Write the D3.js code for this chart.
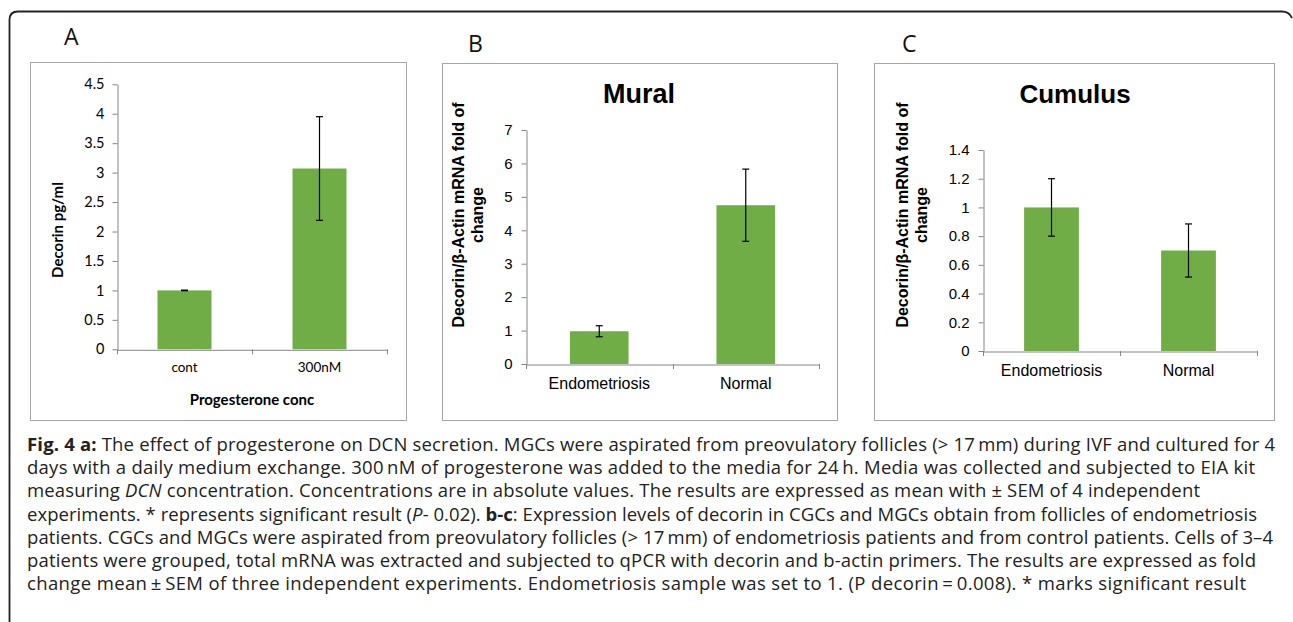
<!DOCTYPE html>
<html><head><meta charset="utf-8">
<script src="https://cdn.jsdelivr.net/npm/d3@7"></script>
<style>body{margin:0;background:#fff}svg{display:block}</style>
</head><body>
<svg id="c" width="1293" height="622"></svg>
<script>
// ---- data ----
const catsA = ["cont", "300nM"];
const valsA = [1.0, 3.07];
const errA = [0.005, 0.88];
const ticksA = [0, 0.5, 1, 1.5, 2, 2.5, 3, 3.5, 4, 4.5];

const catsBC = ["Endometriosis", "Normal"];
const valsB = [0.98, 4.75];
const errB = [0.165, 1.08];
const ticksB = [0, 1, 2, 3, 4, 5, 6, 7];

const valsC = [1.0, 0.7];
const errC = [0.2, 0.185];
const ticksC = [0, 0.2, 0.4, 0.6, 0.8, 1, 1.2, 1.4];

const captionLines = [
  [["b","Fig. 4 a:"],["n"," The effect of progesterone on DCN secretion. MGCs were aspirated from preovulatory follicles (> 17\u2009mm) during IVF and cultured for 4"]],
  [["n","days with a daily medium exchange. 300\u2009nM of progesterone was added to the media for 24\u2009h. Media was collected and subjected to EIA kit"]],
  [["n","measuring "],["i","DCN"],["n"," concentration. Concentrations are in absolute values. The results are expressed as mean with \u00b1 SEM of 4 independent"]],
  [["n","experiments. * represents significant result ("],["i","P"],["n","- 0.02). "],["b","b-c"],["n",": Expression levels of decorin in CGCs and MGCs obtain from follicles of endometriosis"]],
  [["n","patients. CGCs and MGCs were aspirated from preovulatory follicles (> 17\u2009mm) of endometriosis patients and from control patients. Cells of 3\u20134"]],
  [["n","patients were grouped, total mRNA was extracted and subjected to qPCR with decorin and b-actin primers. The results are expressed as fold"]],
  [["n","change mean\u2009\u00b1\u2009SEM of three independent experiments. Endometriosis sample was set to 1. (P decorin\u2009=\u20090.008). * marks significant result"]]
];
const captionEnds = [1275, 1255, 1200, 1257, 1273, 1256, 1246];

const svg = d3.select("#c");
const green = "#70AD47";
const axisCol = "#868686";

svg.append("path")
  .attr("d", "M9.5,640 L9.5,20 Q9.5,11.5 18,11.5 L1282,11.5 Q1289,11.5 1292,18")
  .attr("fill", "none").attr("stroke", "#222").attr("stroke-width", 1.8);

function panel(o) {
  const g = svg.append("g");
  g.append("rect").attr("x", o.frame[0] + 0.5).attr("y", o.frame[1] + 0.5)
    .attr("width", o.frame[2] - o.frame[0]).attr("height", o.frame[3] - o.frame[1])
    .attr("fill", "#fff").attr("stroke", "#a6a6a6").attr("stroke-width", 1);
  g.append("text").attr("x", o.letterPos[0]).attr("y", o.letterPos[1])
    .attr("font-family", "'Open Sans', sans-serif").attr("font-size", 23)
    .attr("fill", "#111").text(o.letter);

  const y = d3.scaleLinear().domain(o.ydom).range([o.y0, o.y1]);
  const x = d3.scaleBand().domain(o.cats).range([o.x0, o.x1])
    .paddingInner(0.6).paddingOuter(0.3);

  const ya = g.append("g").attr("transform", `translate(${o.x0 + 0.5},0)`)
    .call(d3.axisLeft(y).tickValues(o.ticks).tickSize(5).tickSizeOuter(0).tickPadding(o.tickPad)
      .tickFormat(d3.format("")));
  ya.select(".domain").attr("stroke", axisCol);
  ya.selectAll(".tick line").attr("stroke", axisCol);
  ya.selectAll(".tick text").attr("font-family", o.font).attr("font-size", o.fs).attr("fill", "#000");

  const xa = g.append("g").attr("transform", `translate(0,${o.y0 + 0.5})`)
    .call(d3.axisBottom(x).tickSize(0).tickPadding(o.catPad).tickSizeOuter(0));
  xa.select(".domain").attr("stroke", axisCol);
  xa.selectAll(".tick text").attr("font-family", o.font).attr("font-size", o.catFs).attr("fill", "#000");
  const bounds = [o.x0, o.x0 + x.step(), o.x1];
  g.selectAll(null).data(bounds).join("line")
    .attr("x1", d => Math.round(d) + 0.5).attr("x2", d => Math.round(d) + 0.5)
    .attr("y1", o.y0).attr("y2", o.y0 + 5).attr("stroke", axisCol);

  g.selectAll(null).data(o.vals).join("rect")
    .attr("x", (d, i) => x(o.cats[i])).attr("width", x.bandwidth())
    .attr("y", d => y(d)).attr("height", d => y(0) - y(d)).attr("fill", green);

  const eb = g.selectAll(null).data(o.vals).join("g");
  eb.append("line")
    .attr("x1", (d, i) => x(o.cats[i]) + x.bandwidth() / 2).attr("x2", (d, i) => x(o.cats[i]) + x.bandwidth() / 2)
    .attr("y1", (d, i) => y(d + o.err[i])).attr("y2", (d, i) => y(d - o.err[i]))
    .attr("stroke", "#000").attr("stroke-width", 1.2);
  [1, -1].forEach(s => {
    eb.append("line")
      .attr("x1", (d, i) => x(o.cats[i]) + x.bandwidth() / 2 - 3.5).attr("x2", (d, i) => x(o.cats[i]) + x.bandwidth() / 2 + 3.5)
      .attr("y1", (d, i) => y(d + s * o.err[i])).attr("y2", (d, i) => y(d + s * o.err[i]))
      .attr("stroke", "#000").attr("stroke-width", 1.2);
  });

  if (o.title) {
    g.append("text").attr("x", o.titlePos[0]).attr("y", o.titlePos[1]).attr("text-anchor", "middle")
      .attr("font-family", "'Liberation Sans', Arial, sans-serif").attr("font-weight", "bold")
      .attr("font-size", o.titleFs).attr("fill", "#000").text(o.title);
  }
  const yt = g.append("text").attr("transform", `translate(${o.ytPos[0]},${o.ytPos[1]}) rotate(-90)`)
    .attr("text-anchor", "middle").attr("font-family", o.font).attr("font-weight", "bold")
    .attr("font-size", o.ytfs).attr("fill", "#000");
  o.ytitle.forEach((t, i) => yt.append("tspan").attr("x", 0).attr("dy", i === 0 ? 0 : o.ytLine).text(t));
  if (o.xtitle) {
    g.append("text").attr("x", o.xtPos[0]).attr("y", o.xtPos[1]).attr("text-anchor", "middle")
      .attr("font-family", o.font).attr("font-weight", "bold").attr("font-size", o.ytfs).attr("fill", "#000")
      .text(o.xtitle);
  }
}

panel({
  frame: [30, 62, 406, 420], letter: "A", letterPos: [64, 45],
  cats: catsA, vals: valsA, err: errA, ticks: ticksA, ydom: [0, 4.5],
  x0: 117, x1: 387, y0: 349.3, y1: 84.3,
  font: "Lato, 'Open Sans', sans-serif", fs: 14.5, catFs: 13.5, tickPad: 8, catPad: 13,
  ytitle: ["Decorin pg/ml"], ytPos: [63, 230], ytfs: 15, ytLine: 0,
  xtitle: "Progesterone conc", xtPos: [252, 405]
});

panel({
  frame: [442, 63, 837, 420], letter: "B", letterPos: [468, 52],
  cats: catsBC, vals: valsB, err: errB, ticks: ticksB, ydom: [0, 7],
  x0: 526, x1: 819, y0: 364, y1: 130,
  font: "'Liberation Sans', Arial, sans-serif", fs: 15, catFs: 16, tickPad: 9, catPad: 13,
  title: "Mural", titlePos: [639, 103], titleFs: 27,
  ytitle: ["Decorin/\u03b2-Actin mRNA fold of", "change"], ytPos: [464, 215], ytfs: 16, ytLine: 19
});

panel({
  frame: [874, 63, 1274, 420], letter: "C", letterPos: [902, 52],
  cats: catsBC, vals: valsC, err: errC, ticks: ticksC, ydom: [0, 1.4],
  x0: 983, x1: 1257, y0: 351, y1: 150,
  font: "'Liberation Sans', Arial, sans-serif", fs: 15, catFs: 16, tickPad: 9, catPad: 13,
  title: "Cumulus", titlePos: [1075, 103], titleFs: 26,
  ytitle: ["Decorin/\u03b2-Actin mRNA fold of", "change"], ytPos: [908, 215], ytfs: 16, ytLine: 19
});

const cap = svg.append("g");
captionLines.forEach((line, li) => {
  const t = cap.append("text").attr("x", 27).attr("y", 451 + li * 23.2)
    .attr("font-family", "'Open Sans', sans-serif").attr("font-size", 18.5).attr("fill", "#222")
    .attr("textLength", captionEnds[li] - 27).attr("lengthAdjust", "spacing");
  line.forEach(([s, str]) => {
    const ts = t.append("tspan").text(str);
    if (s === "b") ts.attr("font-weight", "bold");
    if (s === "i") ts.attr("font-style", "italic");
  });
});
</script>
</body></html>
